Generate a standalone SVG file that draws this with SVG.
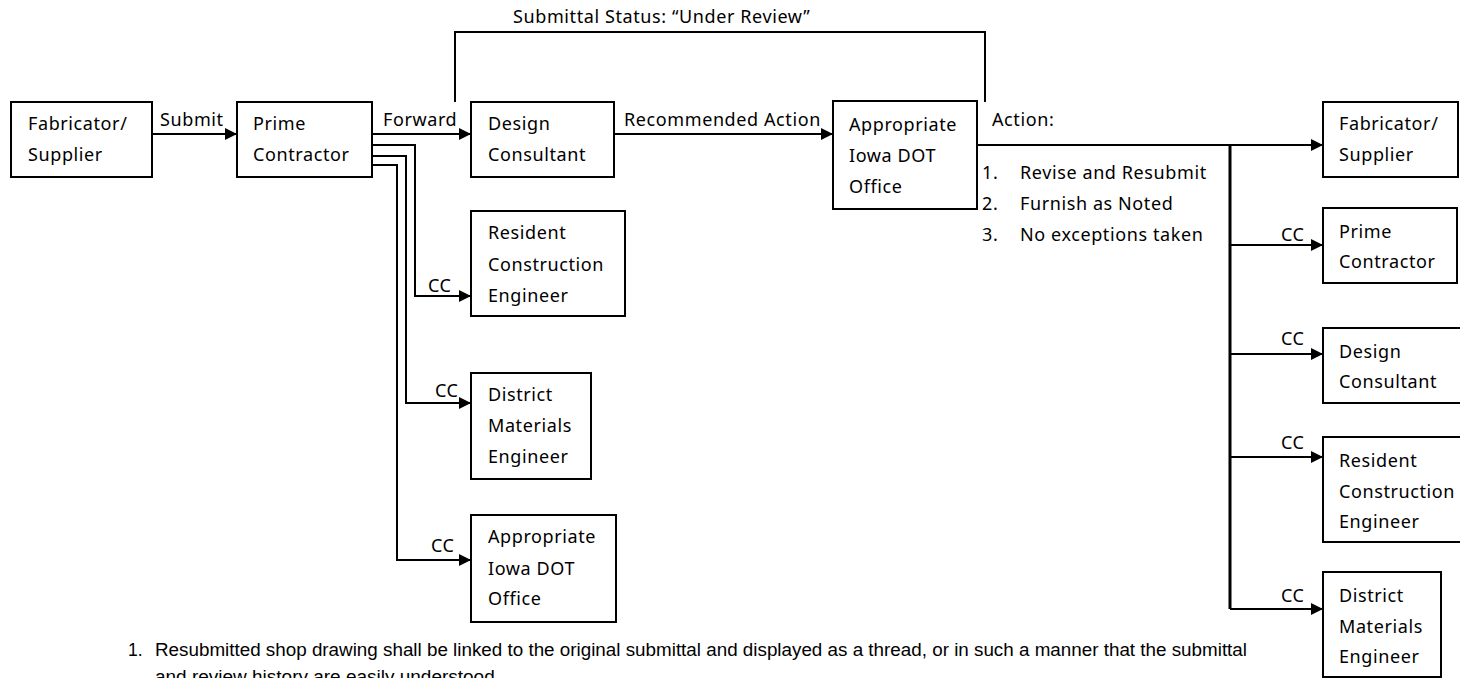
<svg xmlns="http://www.w3.org/2000/svg" width="1460" height="678" viewBox="0 0 1460 678">
<style>
.box{fill:#fff;stroke:#000;stroke-width:2}
.t{font-family:"Noto Sans","Open Sans",sans-serif;font-size:18px;letter-spacing:0.6px;fill:#000}
.ln{fill:none;stroke:#000;stroke-width:2}
.bus{fill:none;stroke:#000;stroke-width:3}
.note{font-family:"Liberation Sans",Arial,sans-serif;font-size:17.5px;fill:#000}
</style>
<defs>
<marker id="arr" markerUnits="userSpaceOnUse" markerWidth="13" markerHeight="13" refX="12" refY="6.5" orient="auto">
<path d="M0,0.5 L12,6.5 L0,12.5 z" fill="#000"/>
</marker>
</defs>
<rect width="1460" height="678" fill="#fff"/>

<g id="connectors">
<polyline class="ln" points="455,102 455,32 985,32 985,102"/>
<line class="ln" x1="152" y1="134" x2="237" y2="134" marker-end="url(#arr)"/>
<line class="ln" x1="372" y1="134" x2="471" y2="134" marker-end="url(#arr)"/>
<line class="ln" x1="614" y1="134" x2="833" y2="134" marker-end="url(#arr)"/>
<polyline class="ln" points="372,145 415,145 415,296 471,296" marker-end="url(#arr)"/>
<polyline class="ln" points="372,156 406,156 406,403 471,403" marker-end="url(#arr)"/>
<polyline class="ln" points="372,165 397,165 397,560 471,560" marker-end="url(#arr)"/>
<line class="ln" x1="977" y1="145" x2="1323" y2="145" marker-end="url(#arr)"/>
<line class="bus" x1="1230" y1="145" x2="1230" y2="609"/>
<line class="ln" x1="1230" y1="245" x2="1323" y2="245" marker-end="url(#arr)"/>
<line class="ln" x1="1230" y1="354" x2="1323" y2="354" marker-end="url(#arr)"/>
<line class="ln" x1="1230" y1="457" x2="1323" y2="457" marker-end="url(#arr)"/>
<line class="ln" x1="1230" y1="609" x2="1323" y2="609" marker-end="url(#arr)"/>
<text class="t" x="513" y="23">Submittal Status: “Under Review”</text>
<text class="t" x="160" y="126">Submit</text>
<text class="t" x="383" y="126">Forward</text>
<text class="t" x="624" y="126">Recommended Action</text>
<text class="t" x="428" y="292">CC</text>
<text class="t" x="435" y="397">CC</text>
<text class="t" x="431" y="552">CC</text>
<text class="t" x="992" y="126">Action:</text>
<text class="t" x="982" y="179">1.</text>
<text class="t" x="1020" y="179">Revise and Resubmit</text>
<text class="t" x="982" y="210">2.</text>
<text class="t" x="1020" y="210">Furnish as Noted</text>
<text class="t" x="982" y="241">3.</text>
<text class="t" x="1020" y="241">No exceptions taken</text>
<text class="t" x="1281" y="241">CC</text>
<text class="t" x="1281" y="345">CC</text>
<text class="t" x="1281" y="449">CC</text>
<text class="t" x="1281" y="602">CC</text>
</g>

<g id="fabricator-left">
<rect class="box" x="11" y="102" width="141" height="75"/>
<text class="t" x="28" y="130">Fabricator/</text>
<text class="t" x="28" y="161">Supplier</text>
</g>
<g id="prime-left">
<rect class="box" x="237" y="102" width="135" height="75"/>
<text class="t" x="253" y="130">Prime</text>
<text class="t" x="253" y="161">Contractor</text>
</g>
<g id="design-left">
<rect class="box" x="471" y="102" width="143" height="75"/>
<text class="t" x="488" y="130">Design</text>
<text class="t" x="488" y="161">Consultant</text>
</g>
<g id="iowa-dot-top">
<rect class="box" x="833" y="101" width="144" height="108"/>
<text class="t" x="849" y="131">Appropriate</text>
<text class="t" x="849" y="162">Iowa DOT</text>
<text class="t" x="849" y="193">Office</text>
</g>
<g id="resident-left">
<rect class="box" x="471" y="211" width="154" height="105"/>
<text class="t" x="488" y="239">Resident</text>
<text class="t" x="488" y="271">Construction</text>
<text class="t" x="488" y="302">Engineer</text>
</g>
<g id="district-left">
<rect class="box" x="471" y="373" width="120" height="106"/>
<text class="t" x="488" y="401">District</text>
<text class="t" x="488" y="432">Materials</text>
<text class="t" x="488" y="463">Engineer</text>
</g>
<g id="iowa-dot-left">
<rect class="box" x="471" y="515" width="145" height="107"/>
<text class="t" x="488" y="543">Appropriate</text>
<text class="t" x="488" y="575">Iowa DOT</text>
<text class="t" x="488" y="605">Office</text>
</g>
<g id="fabricator-right">
<rect class="box" x="1323" y="102" width="135" height="75"/>
<text class="t" x="1339" y="130">Fabricator/</text>
<text class="t" x="1339" y="161">Supplier</text>
</g>
<g id="prime-right">
<rect class="box" x="1323" y="208" width="134" height="75"/>
<text class="t" x="1339" y="238">Prime</text>
<text class="t" x="1339" y="268">Contractor</text>
</g>
<g id="design-right">
<rect class="box" x="1323" y="328" width="140" height="75"/>
<text class="t" x="1339" y="358">Design</text>
<text class="t" x="1339" y="388">Consultant</text>
</g>
<g id="resident-right">
<rect class="box" x="1323" y="437" width="140" height="105"/>
<text class="t" x="1339" y="467">Resident</text>
<text class="t" x="1339" y="498">Construction</text>
<text class="t" x="1339" y="528">Engineer</text>
</g>
<g id="district-right">
<rect class="box" x="1323" y="572" width="118" height="105"/>
<text class="t" x="1339" y="602">District</text>
<text class="t" x="1339" y="633">Materials</text>
<text class="t" x="1339" y="663">Engineer</text>
</g>

<g id="note">
<text class="note" x="128" y="656">1.</text>
<text class="note" x="155" y="656" textLength="1092" lengthAdjust="spacingAndGlyphs">Resubmitted shop drawing shall be linked to the original submittal and displayed as a thread, or in such a manner that the submittal</text>
<text class="note" x="155" y="683" textLength="345" lengthAdjust="spacingAndGlyphs">and review history are easily understood.</text>
</g>
</svg>
